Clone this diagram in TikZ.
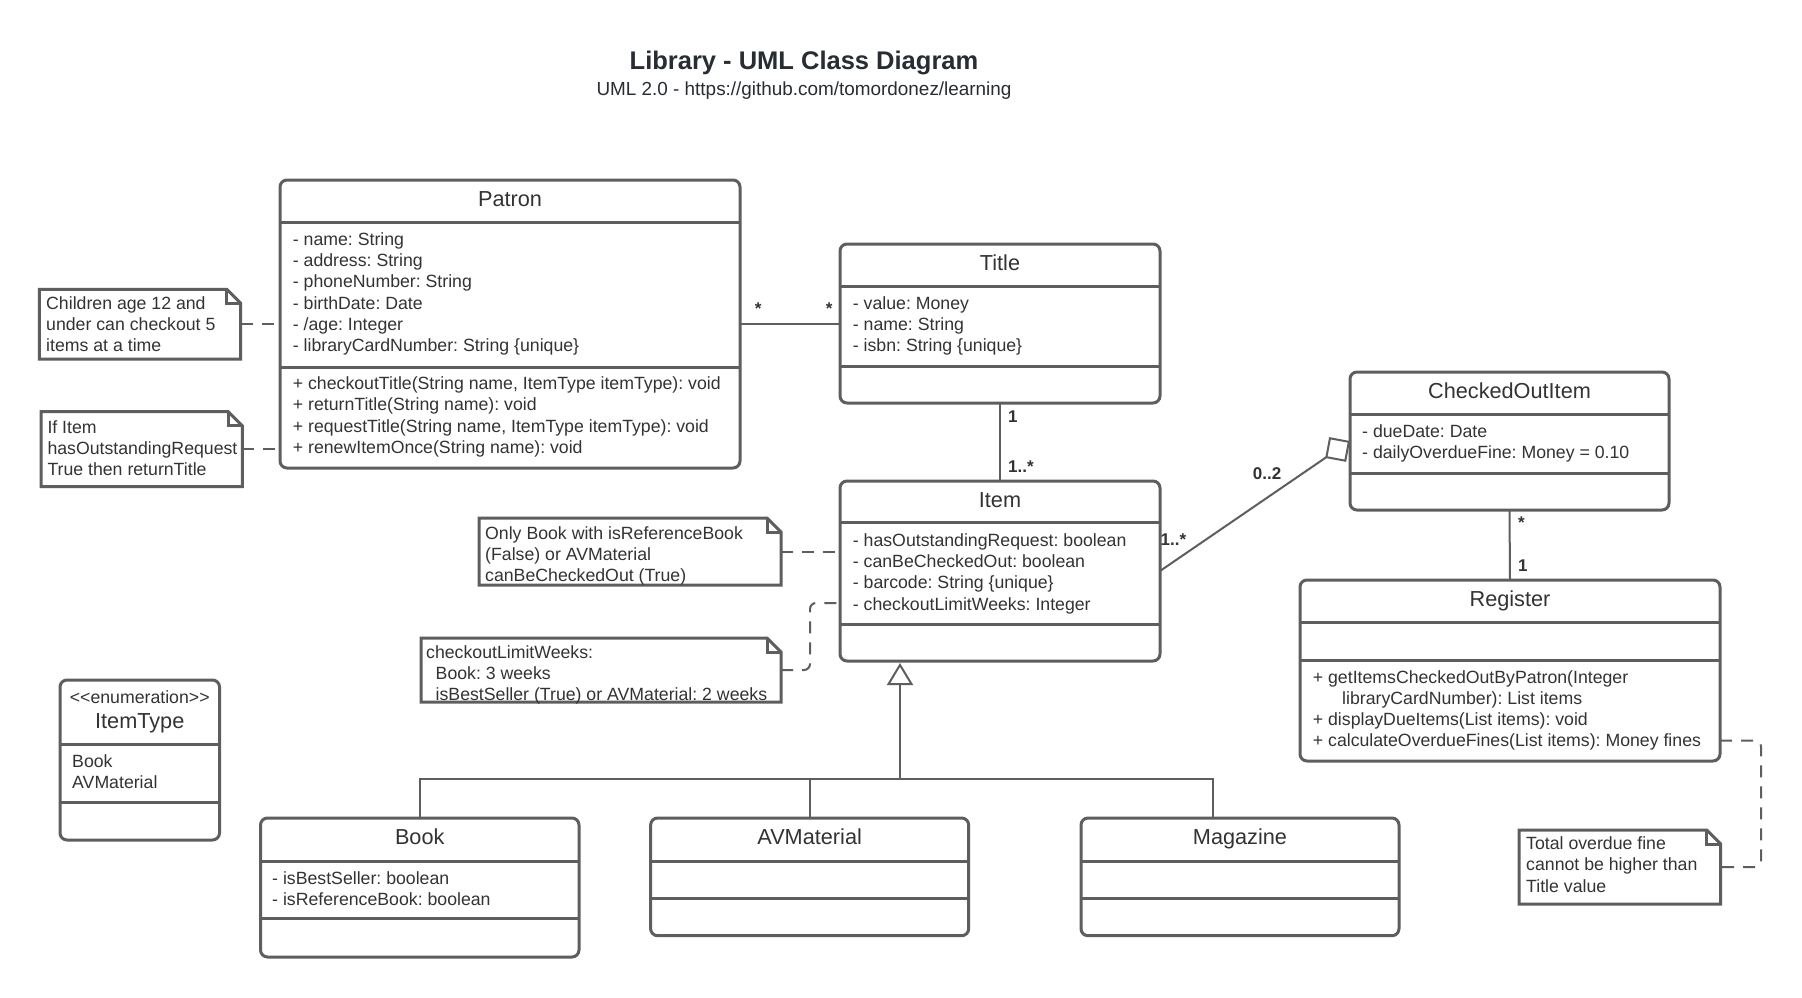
\documentclass[tikz,border=0pt]{standalone}
\usepackage{fontspec}
\setmainfont{Liberation Sans}
\usetikzlibrary{arrows.meta}
\definecolor{linec}{RGB}{94,94,94}
\definecolor{txtc}{RGB}{51,51,51}
\definecolor{titc}{RGB}{40,44,51}
\newcommand\fs{\rule{0pt}{18pt}}
\newcommand\bodyfont{\fontsize{17.7pt}{21.25pt}\selectfont}
\newcommand\hdrfont{\fontsize{21.7pt}{26pt}\selectfont}
\newcommand\multfont{\bfseries\fontsize{17pt}{20pt}\selectfont}
\newcommand\notefold[1]{%
  \draw[noteline] (#1.north west) -- ([xshift=-14pt]#1.north east) -- ([yshift=-14pt]#1.north east) -- (#1.south east) -- (#1.south west) -- cycle;
  \draw[noteline] ([xshift=-14pt]#1.north east) |- ([yshift=-14pt]#1.north east);}
\begin{document}
\frenchspacing
\begin{tikzpicture}[x=1pt,y=-1pt,
  cls/.style={draw=linec, line width=3pt, rounded corners=7pt, inner sep=0pt, outer sep=0pt, fill=white},
  divider/.style={draw=linec, line width=3pt},
  notebox/.style={inner sep=0pt, outer sep=0pt},
  noteline/.style={draw=linec, line width=3pt, line join=miter},
  txt/.style={anchor=north west, inner sep=0pt, align=left, font=\bodyfont, text=txtc},
  hdr/.style={anchor=base, inner sep=0pt, font=\hdrfont, text=txtc},
  mult/.style={anchor=base west, inner sep=0pt, font=\multfont, text=txtc},
  conn/.style={draw=linec, line width=2pt},
  dconn/.style={draw=linec, line width=2pt, dash pattern=on 12pt off 9pt, rounded corners=6pt},
]
\fill[white] (0,0) rectangle (1802,998);
\useasboundingbox (0,0) rectangle (1802,998);

% title
\node[anchor=base, inner sep=0pt, font=\bfseries\fontsize{25.5pt}{30pt}\selectfont, text=titc] (ttl) at (804,69.5) {Library - UML Class Diagram};
\node[anchor=base, inner sep=0pt, font=\fontsize{18.9pt}{22pt}\selectfont, text=titc] (sub) at (804,95.5) {UML 2.0 - https://github.com/tomordonez/learning};

% Patron
\node[cls, minimum width=460pt, minimum height=288pt] (patron) at (510,324) {};
\draw[divider] (280,222) -- (740,222);
\draw[divider] (280,367) -- (740,367);
\node[hdr] (patronH) at (510,206.1) {Patron};
\node[txt] (patronA) at (292.7,227.1) {\fs- name: String\\- address: String\\- phoneNumber: String\\- birthDate: Date\\- /age: Integer\\- libraryCardNumber: String \{unique\}};
\node[txt] (patronM) at (292.7,371.4) {\fs+ checkoutTitle(String name, ItemType itemType): void\\+ returnTitle(String name): void\\+ requestTitle(String name, ItemType itemType): void\\+ renewItemOnce(String name): void};

% Title
\node[cls, minimum width=320pt, minimum height=159pt] (title) at (1000,323.5) {};
\draw[divider] (840,286) -- (1160,286);
\draw[divider] (840,366) -- (1160,366);
\node[hdr] (titleH) at (1000,270.5) {Title};
\node[txt] (titleA) at (852.7,290.8) {\fs- value: Money\\- name: String\\- isbn: String \{unique\}};

% Item
\node[cls, minimum width=320pt, minimum height=180pt] (item) at (1000,571) {};
\draw[divider] (840,522) -- (1160,522);
\draw[divider] (840,624) -- (1160,624);
\node[hdr] (itemH) at (1000,507.5) {Item};
\node[txt] (itemA) at (852.7,528.1) {\fs- hasOutstandingRequest: boolean\\- canBeCheckedOut: boolean\\- barcode: String \{unique\}\\- checkoutLimitWeeks: Integer};

% CheckedOutItem
\node[cls, minimum width=319pt, minimum height=138pt] (coi) at (1509.5,441) {};
\draw[divider] (1350,414) -- (1669,414);
\draw[divider] (1350,473) -- (1669,473);
\node[hdr] (coiH) at (1509.5,398.8) {CheckedOutItem};
\node[txt] (coiA) at (1362,419.1) {\fs- dueDate: Date\\- dailyOverdueFine: Money = 0.10};

% Register
\node[cls, minimum width=420pt, minimum height=181pt] (reg) at (1510,670.5) {};
\draw[divider] (1300,622.3) -- (1720,622.3);
\draw[divider] (1300,660) -- (1720,660);
\node[hdr] (regH) at (1510,606.5) {Register};
\node[txt] (regM) at (1312.7,664.8) {\fs+ getItemsCheckedOutByPatron(Integer\\\hspace*{29.3pt}libraryCardNumber): List items\\+ displayDueItems(List items): void\\+ calculateOverdueFines(List items): Money fines};

% ItemType
\node[cls, minimum width=159.5pt, minimum height=160pt] (itype) at (139.75,760) {};
\draw[divider] (60,744) -- (219.5,744);
\draw[divider] (60,802.3) -- (219.5,802.3);
\node[anchor=base, inner sep=0pt, font=\bodyfont, text=txtc] (itypeS) at (139.75,703) {<\kern0pt<enumeration>\kern0pt>};
\node[hdr] (itypeH) at (139.75,728.5) {ItemType};
\node[txt] (itypeA) at (72,748.8) {\fs Book\\AVMaterial};

% Book, AVMaterial, Magazine
\node[cls, minimum width=318.5pt, minimum height=139pt] (book) at (419.75,887.5) {};
\draw[divider] (260.5,861) -- (579,861);
\draw[divider] (260.5,918.7) -- (579,918.7);
\node[hdr] (bookH) at (419.75,844.5) {Book};
\node[txt] (bookA) at (272,866.4) {\fs- isBestSeller: boolean\\- isReferenceBook: boolean};

\node[cls, minimum width=318pt, minimum height=117.7pt] (avm) at (809.65,876.85) {};
\draw[divider] (650.7,861) -- (968.6,861);
\draw[divider] (650.7,898.7) -- (968.6,898.7);
\node[hdr] (avmH) at (809.65,844.5) {AVMaterial};

\node[cls, minimum width=318pt, minimum height=117.7pt] (mag) at (1240,876.85) {};
\draw[divider] (1081,861) -- (1399,861);
\draw[divider] (1081,898.7) -- (1399,898.7);
\node[hdr] (magH) at (1240,844.5) {Magazine};

% notes
\node[notebox, minimum width=201.4pt, minimum height=69.7pt] (nchild) at (140,324.15) {};
\notefold{nchild}
\node[txt] (nchildT) at (46,290.8) {\fs Children age 12 and\\under can checkout 5\\items at a time};

\node[notebox, minimum width=201.3pt, minimum height=75pt] (nifitem) at (141.65,449.2) {};
\notefold{nifitem}
\node[txt] (nifitemT) at (47.3,414.8) {\fs If Item\\hasOutstandingRequest\\True then returnTitle};

\node[notebox, minimum width=302pt, minimum height=67pt] (nonly) at (630,551.5) {};
\notefold{nonly}
\node[txt] (nonlyT) at (485,520.8) {\fs Only Book with isReferenceBook\\(False) or AVMaterial\\canBeCheckedOut (True)};

\node[notebox, minimum width=360pt, minimum height=64pt] (nlimit) at (601,670) {};
\notefold{nlimit}
\node[txt] (nlimitT) at (426,639.8) {\fs checkoutLimitWeeks:\\\hspace*{9.5pt}Book: 3 weeks\\\hspace*{9.5pt}isBestSeller (True) or AVMaterial: 2 weeks};

\node[notebox, minimum width=201.7pt, minimum height=74pt] (ntotal) at (1619.85,867) {};
\notefold{ntotal}
\node[txt] (ntotalT) at (1526,831.4) {\fs Total overdue fine\\cannot be higher than\\Title value};

% connectors
\draw[conn] (patron.east) -- (patron.east -| title.west);
\node[mult] (m1) at (754.7,314) {*};
\node[mult] (m2) at (825.7,314) {*};

\draw[conn] (title.south) -- (item.north);
\node[mult] (m3) at (1008,422.3) {1};
\node[mult] (m4) at (1008,472.7) {1..*};

\draw[conn, -{Diamond[open,length=30pt,width=30pt]}] (item.east) -- (coi.west);
\node[mult] (m5) at (1160.5,545) {1..*};
\node[mult] (m6) at (1252.7,479.3) {0..2};

\draw[conn] (coi.south) -- (reg.north);
\node[mult] (m7) at (1518,528) {*};
\node[mult] (m8) at (1518,571.7) {1};

\coordinate (gbar) at (900,779);
\draw[conn] (book.north) |- (gbar);
\draw[conn] (avm.north) -- (avm.north |- gbar);
\draw[conn] ([xshift=-27pt]mag.north) |- (gbar);
\draw[conn, -{Triangle[open,length=22pt,width=26pt]}] (gbar) -- ([yshift=-2pt]gbar |- item.south);

\draw[dconn] (nchild.east) -- (nchild.east -| patron.west);
\draw[dconn] (nifitem.east) -- (nifitem.east -| patron.west);
\draw[dconn] (nonly.east) -- (nonly.east -| item.west);
\coordinate (itemcl) at (840,603);
\draw[dconn] (nlimit.east) -- ++(29,0) |- (itemcl);
\coordinate (regcf) at (1720,740.7);
\draw[dconn] (regcf) -- ++(41,0) |- (ntotal.east);
\end{tikzpicture}
\end{document}
